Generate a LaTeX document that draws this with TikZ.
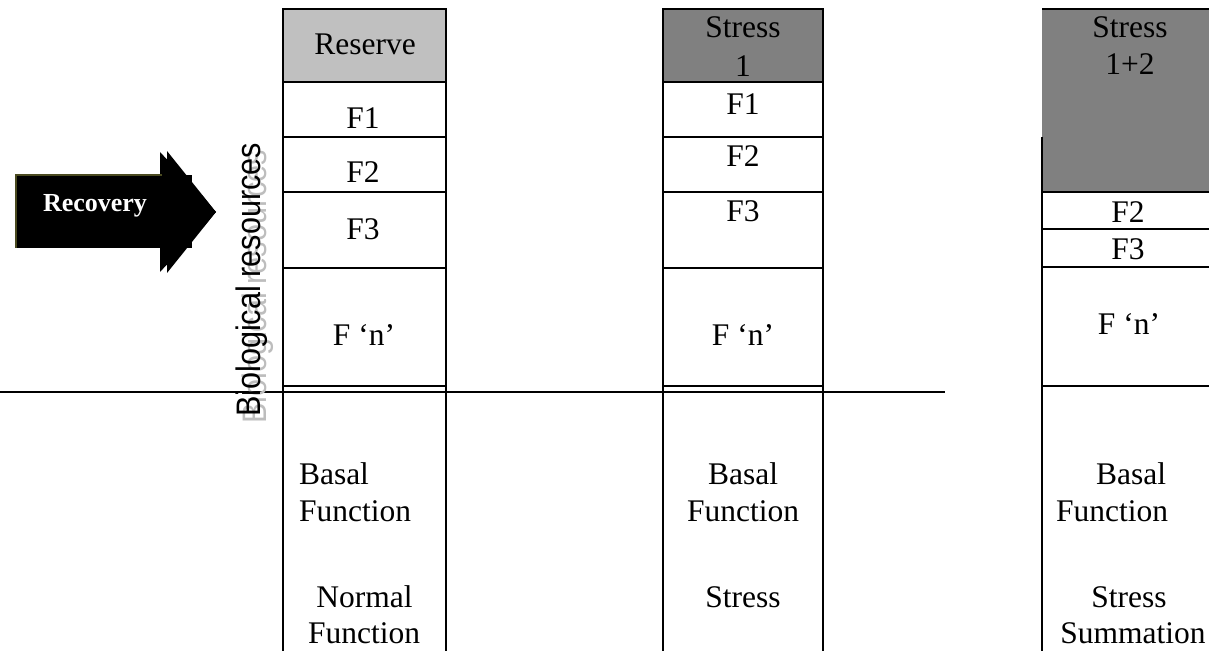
\documentclass[tikz,border=0pt]{standalone}
\usepackage{fontspec}
\setmainfont{Liberation Serif}
\newfontfamily\labelsans{Liberation Sans}
\definecolor{reservegray}{HTML}{C0C0C0}
\definecolor{stressgray}{HTML}{808080}
\definecolor{shadowgray}{HTML}{BDBDBD}
\definecolor{arrowedge}{HTML}{4A4A20}

\begin{document}
\begin{tikzpicture}[x=0.5pt,y=-0.5pt,line width=1pt,
  lbl/.style={anchor=base,inner sep=0pt,font=\fontsize{15.75}{18}\selectfont},
  lblw/.style={lbl,anchor=base west},
  sep/.style={line width=1pt},
  vtext/.style={rotate=90,anchor=base,inner sep=0pt,
    font=\labelsans\fontsize{17}{20}\selectfont}]
\useasboundingbox (0,0) rectangle (1209,651);

% ---- column 1: reserve ----
\fill[reservegray] (283,9) rectangle (446,82);
\draw (283,651) -- (283,9) -- (446,9) -- (446,651);
\foreach \y in {82,137,192,268,386} \draw[sep] (283,\y) -- (446,\y);

% ---- column 2: stress 1 ----
\fill[stressgray] (663,9) rectangle (823,82);
\draw (663,651) -- (663,9) -- (823,9) -- (823,651);
\foreach \y in {82,137,192,268,386} \draw[sep] (663,\y) -- (823,\y);

% ---- column 3: stress 1+2 ----
\fill[stressgray] (1042,9) rectangle (1212,192);
\draw (1042,9) -- (1212,9);
\draw (1042,137) -- (1042,651);
\foreach \y in {192,229,267,386} \draw[sep] (1042,\y) -- (1212,\y);

% ---- baseline of normal activity ----
\draw (0,392) -- (945,392);

% ---- recovery arrow ----
\fill[black] (16,175) rectangle (192,248);
\fill[black] (160,152) -- (216,212) -- (160,272) -- cycle;
\fill[black] (167,151) -- (216,212) -- (167,273) -- cycle;
\draw[arrowedge,line width=0.6pt] (16,248) -- (16,175) -- (162,175);
\node[anchor=base,inner sep=0pt,text=white,
  font=\bfseries\fontsize{13}{15}\selectfont] (rec) at (95,212) {Recovery};

% ---- vertical caption with its shadow ----
\node[vtext,text=shadowgray] (bioshadow) at (266,287)
  {\scalebox{0.9}[1]{Biological resources}};
\node[vtext] (bio) at (260,280) {\scalebox{0.9}[1]{Biological resources}};

% ---- labels, column 1 ----
\node[lbl] (res) at (365,55) {Reserve};
\node[lbl] (a1) at (363,129) {F1};
\node[lbl] (a2) at (363,183) {F2};
\node[lbl] (a3) at (363,240) {F3};
\node[lbl] (an) at (364,346) {F ‘n’};
\node[lblw] (abas) at (298,485) {Basal};
\node[lblw] (afun) at (298,522) {Function};
\node[lbl] (anor) at (364.5,607) {Normal};
\node[lbl] (anorf) at (364,643) {Function};

% ---- labels, column 2 ----
\node[lbl] (s1a) at (743,38) {Stress};
\node[lbl] (s1b) at (743,77) {1};
\node[lbl] (b1) at (743,115) {F1};
\node[lbl] (b2) at (743,167) {F2};
\node[lbl] (b3) at (743,222) {F3};
\node[lbl] (bn) at (743,346) {F ‘n’};
\node[lbl] (bbas) at (743,485) {Basal};
\node[lbl] (bfun) at (743,522) {Function};
\node[lbl] (bstr) at (743,607) {Stress};

% ---- labels, column 3 ----
\node[lbl] (s2a) at (1130,38) {Stress};
\node[lbl] (s2b) at (1130,75) {1+2};
\node[lbl] (c2) at (1128,223) {F2};
\node[lbl] (c3) at (1128,260) {F3};
\node[lbl] (cn) at (1129,335) {F ‘n’};
\node[lbl] (cbas) at (1131,485) {Basal};
\node[lbl] (cfun) at (1112,522) {Function};
\node[lbl] (cstr) at (1129,607) {Stress};
\node[lbl] (csum) at (1133,643) {Summation};
\end{tikzpicture}
\end{document}
